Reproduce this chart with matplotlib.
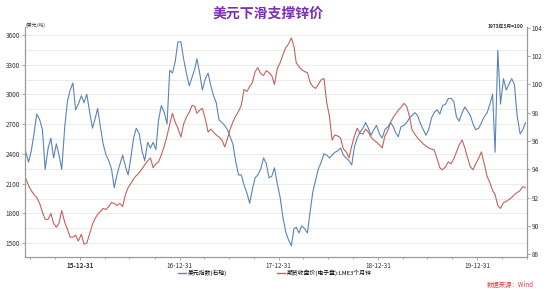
import numpy as np
import pandas as pd
import matplotlib
matplotlib.use('Agg')
import matplotlib.pyplot as plt
import matplotlib.dates as mdates
from matplotlib.ticker import MultipleLocator
from matplotlib.lines import Line2D

plt.rcParams['font.family'] = ['Noto Sans CJK SC', 'DejaVu Sans']

# 数据：每月 5 / 15 / 25 日三个读数（2015-06 ~ 2020-06）
months = pd.period_range('2015-06', '2020-06', freq='M')
dates = [pd.Timestamp(year=m.year, month=m.month, day=d) for m in months for d in (5, 15, 25)]

# 美元指数（右轴）
dxy = [
    96.4, 95.2, 94.5,   95.3, 96.5, 97.9,   97.5, 96.8, 94.0,   95.5, 96.2, 94.8,
    95.8, 95.0, 94.0,   97.0, 98.8, 99.6,   100.1, 98.2, 98.6,
    99.2, 98.7, 99.3,   98.0, 96.9, 97.6,   98.3, 97.0, 95.8,   95.0, 94.6, 94.0,
    92.7, 93.6, 94.3,   95.0, 94.2, 93.6,   94.8, 96.2, 96.9,   96.5, 95.3, 94.6,
    95.9, 95.5, 95.9,   95.4, 97.5, 98.5,   98.0, 97.2, 101.0,  100.8, 101.6, 103.0,
    103.0, 101.8, 100.8, 99.9, 100.5, 101.1, 101.8, 100.8, 99.6, 100.4, 100.8, 99.9,
    99.2, 98.7, 97.5,   97.3, 97.1, 96.8,   96.3, 95.8, 94.6,   93.6, 93.6, 92.9,
    92.3, 91.6, 92.6,   93.4, 93.6, 94.0,   94.8, 94.4, 93.4,   93.5, 94.1, 93.0,
    92.0, 90.6, 89.6,   89.0, 88.6, 89.8,   89.9, 89.5, 90.0,   89.8, 89.5, 91.0,
    92.4, 93.2, 94.0,   94.5, 95.1, 95.0,   94.8, 95.0, 95.2,   95.3, 95.5, 95.0,
    94.8, 94.6, 94.3,   95.6, 96.2, 96.6,   96.9, 97.3, 96.9,   96.4, 96.8, 97.1,
    96.5, 96.2, 96.8,   97.0, 97.3, 97.0,   96.6, 96.3, 97.0,   97.1, 97.3, 97.6,
    97.8, 98.0, 97.8,   97.2, 96.8, 96.4,   96.8, 97.6, 98.0,   98.2, 97.9, 98.5,
    98.6, 99.0, 99.0,   98.8, 97.7, 97.4,   98.0, 98.4, 98.1,   97.8, 97.2, 96.8,
    96.9, 97.3, 97.7,   98.0, 98.6, 99.3,   95.2, 102.4, 98.6,  100.4, 99.6, 100.0,
    100.4, 100.0, 97.8, 96.5, 96.8, 97.3,
]

# LME3个月锌 期货收盘价（左轴，美元/吨）
zinc = [
    2180, 2150, 2080,   2030, 1990, 1960,   1900, 1813, 1740,   1740, 1800, 1700,
    1660, 1700, 1830,   1710, 1640, 1560,   1560, 1580, 1520,
    1590, 1490, 1500,   1600, 1690, 1750,   1790, 1820, 1850,   1840, 1870, 1910,
    1900, 1880, 1900,   1870, 1990, 2060,   2100, 2150, 2180,   2210, 2250, 2290,
    2330, 2360, 2260,   2300, 2320, 2390,   2480, 2580, 2700,   2810, 2720, 2660,
    2570, 2700, 2770,   2820, 2890, 2880,   2810, 2840, 2860,   2750, 2620, 2650,
    2620, 2590, 2570,   2540, 2470, 2550,   2650, 2720, 2780,   2830, 2890, 3050,
    3030, 3080, 3120,   3230, 3270, 3210,   3190, 3240, 3220,   3190, 3100, 3260,
    3320, 3400, 3470,   3510, 3570, 3480,   3320, 3280, 3250,   3230, 3220, 3120,
    3080, 3060, 3100,   3150, 3160, 2920,   2780, 2540, 2590,   2580, 2560, 2450,
    2420, 2360, 2480,   2580, 2660, 2610,   2600, 2650, 2620,   2570, 2540, 2520,
    2490, 2460, 2580,   2640, 2720, 2770,   2800, 2840, 2870,   2910, 2880, 2780,
    2640, 2600, 2560,   2530, 2500, 2480,   2460, 2450, 2440,   2350, 2260, 2240,
    2270, 2320, 2300,   2350, 2420, 2490,   2540, 2460, 2360,   2270, 2240, 2300,
    2360, 2420, 2300,   2170, 2110, 2030,   1990, 1880, 1850,   1910, 1920, 1940,
    1960, 1990, 2010,   2030, 2070, 2060,
]

year_ends = ['2015-12-31', '2016-12-31', '2017-12-31', '2018-12-31', '2019-12-31']
year_labels = ['15-12-31', '16-12-31', '17-12-31', '18-12-31', '19-12-31']

blue = '#5a84b6'
red = '#c4625c'
axis_c = '#9a9a9a'

fig = plt.figure(figsize=(5.5, 3.0), dpi=100)
ax = fig.add_axes([0.0455, 0.1433, 0.9125, 0.7667])
ax2 = ax.twinx()

ax.plot(dates, zinc, color=red, lw=0.8)
ax2.plot(dates, dxy, color=blue, lw=0.8)

ax.set_xlim(pd.Timestamp('2015-06-12'), pd.Timestamp('2020-06-28'))
ax.set_ylim(1360, 3680)
ax2.set_ylim(87.8, 104.05)

ax.yaxis.set_major_locator(MultipleLocator(300))
ax.yaxis.set_minor_locator(MultipleLocator(150))
ax2.yaxis.set_major_locator(MultipleLocator(2))
ax.grid(True, which='both', axis='y', color='#e8e8e8', lw=0.6)
ax.set_axisbelow(True)

ax.set_xticks(mdates.date2num(pd.to_datetime(year_ends)))
ax.set_xticklabels(year_labels)
ax.set_xticks(mdates.date2num(pd.date_range('2015-06-30', '2020-06-30', freq='3ME')), minor=True)
ax.get_xticklabels()[0].set_fontweight('bold')

for a in (ax, ax2):
    for s in a.spines.values():
        s.set_color(axis_c)
        s.set_linewidth(0.8)
    a.spines['top'].set_visible(False)
    a.tick_params(which='both', length=2, width=0.6, color=axis_c, labelsize=4.6,
                  labelcolor='#333333', pad=1.5)
    a.tick_params(which='minor', axis='y', length=0)
ax.tick_params(axis='x', which='minor', length=1.5)

fig.text(0.046, 0.905, '(美元/吨)', fontsize=3.5, ha='left', va='bottom', color='#333333')
fig.text(0.951, 0.905, '1973年3月=100', fontsize=3.5, ha='right', va='bottom', color='#333333',
         fontweight='bold')

fig.text(0.487, 0.955, '美元下滑支撑锌价', fontsize=10, fontweight='bold', color='#7a2fb8',
         ha='center', va='center')

handles = [Line2D([], [], color=blue, lw=1), Line2D([], [], color=red, lw=1)]
fig.legend(handles, ['美元指数(右轴)', '期货收盘价(电子盘):LME3个月锌'], loc='center',
           bbox_to_anchor=(0.50, 0.09), ncol=2, frameon=False, fontsize=4.2,
           handlelength=1.4, handletextpad=0.3, columnspacing=8.5)

fig.text(0.97, 0.05, '数据来源：Wind', fontsize=4.6, color='#e0404a', ha='right',
         va='center', style='italic')

fig.savefig('out.png', dpi=100)
